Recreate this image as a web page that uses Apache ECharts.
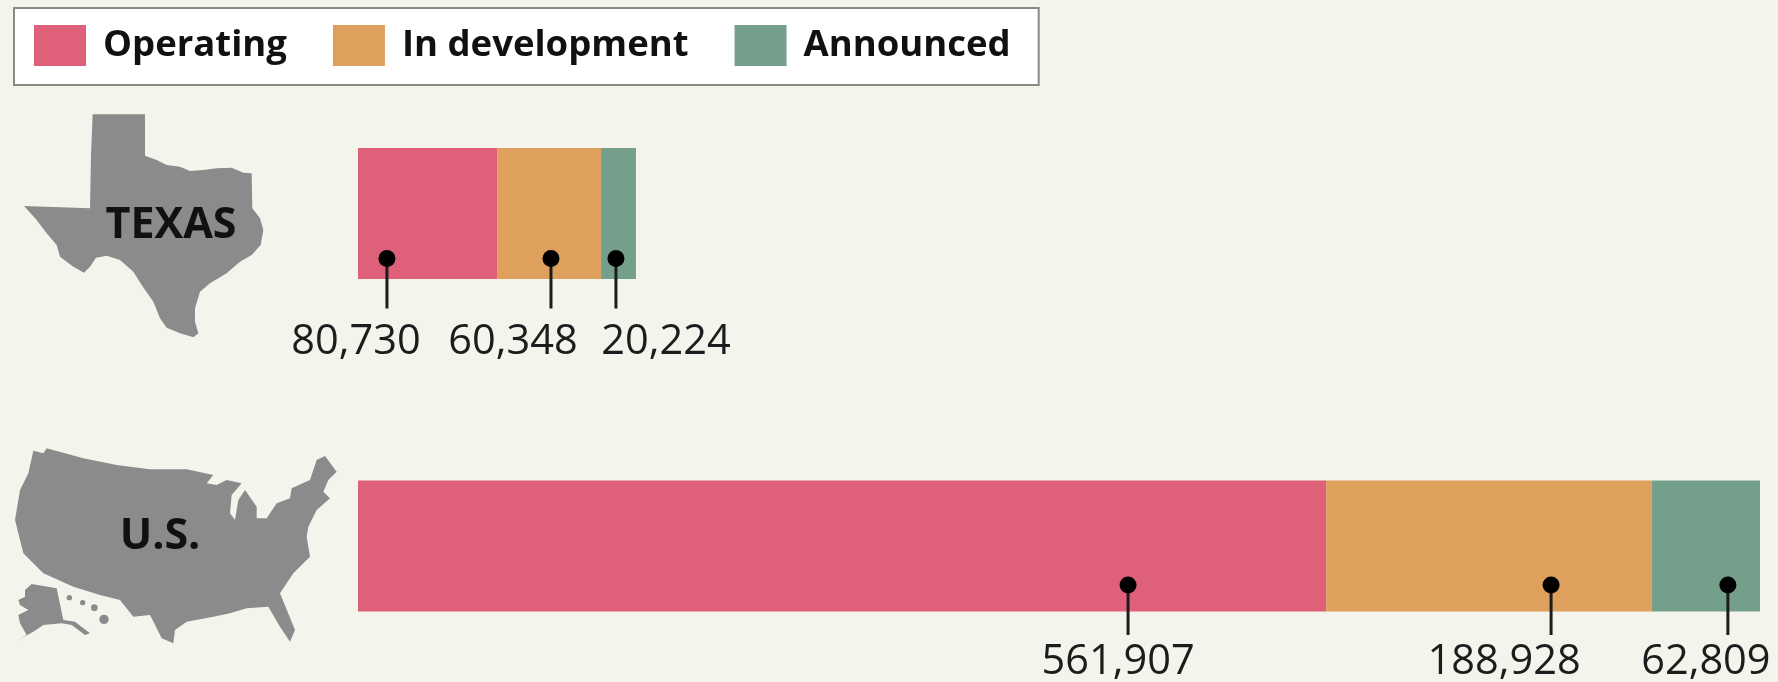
<!DOCTYPE html>
<html>
<head>
<meta charset="utf-8">
<style>
  html, body { margin: 0; padding: 0; background: #f5f4ec; }
  #chart { width: 1778px; height: 682px; }
</style>
<script src="https://cdn.jsdelivr.net/npm/echarts@6/dist/echarts.min.js"></script>
</head>
<body>
<div id="chart"></div>
<script>
// data
var regions = ['TEXAS', 'U.S.'];
var seriesNames = ['Operating', 'In development', 'Announced'];
var operating = [80730, 561907];
var development = [60348, 188928];
var announced = [20224, 62809];

var colors = ['#de6079', '#dea05c', '#749f8a'];
var axisMax = operating[1] + development[1] + announced[1];

// where each pin sits along its bar (axis units), and how its label is set off (px)
var pinAt = [
  [16800, 112000, 149700],
  [446900, 692400, 795000]
];
var pinLayout = [
  { dot: 45, end: 95, text: 129, dx: [-31, -38, 50] },
  { dot: 39, end: 89, text: 116, dx: [-10, -47, -22] }
];

// map outlines, hand traced at 3x
var texasShape = [[248,28],[405,28],[405,152],[440,165],[470,180],[510,185],[540,198],[580,195],[620,190],[665,188],[700,203],[725,205],[727,310],[750,340],[760,375],[752,420],[725,450],[690,470],[650,505],[600,535],[570,560],[555,610],[555,650],[565,685],[550,697],[510,685],[470,668],[450,640],[430,590],[395,540],[370,500],[330,465],[290,452],[258,458],[240,485],[222,503],[190,485],[150,455],[140,420],[110,385],[80,345],[42,303],[240,310],[243,150]];
var usShape = [[100,62],[130,70],[140,55],[250,85],[350,105],[450,118],[560,118],[640,135],[620,160],[650,165],[680,150],[725,160],[695,195],[690,250],[705,270],[715,210],[735,180],[770,230],[770,265],[800,265],[830,220],[870,205],[875,175],[930,150],[950,90],[975,78],[1010,125],[985,150],[970,185],[990,205],[950,240],[925,290],[920,320],[930,380],[880,430],[840,490],[885,600],[870,635],[840,590],[805,530],[740,535],[690,550],[640,560],[560,575],[525,600],[520,640],[485,625],[450,555],[400,560],[360,510],[300,495],[220,470],[130,430],[70,370],[55,310],[45,270],[60,180],[85,130]];
var alaskaShape = [[95,462],[170,475],[190,570],[225,575],[270,610],[255,615],[215,585],[185,580],[130,585],[100,605],[45,635],[80,615],[60,580],[55,555],[85,540],[60,525],[55,510],[75,500],[75,480]];
var hawaiiDots = [[208,503,8],[248,518,8],[283,533,10],[312,568,14]];

var mapGray = '#8b8b8b';
var fontName = '"Open Sans", "Noto Sans", sans-serif';

function mapPart(shape, x, y) {
  return { type: 'polygon', x: x, y: y, scaleX: 1 / 3, scaleY: 1 / 3, shape: { points: shape }, style: { fill: mapGray }, silent: true };
}

var graphics = [
  mapPart(texasShape, 10, 105),
  mapPart(usShape, 0, 430),
  mapPart(alaskaShape, 0, 430)
];
hawaiiDots.forEach(function (d) {
  graphics.push({ type: 'circle', x: 0, y: 430, scaleX: 1 / 3, scaleY: 1 / 3, shape: { cx: d[0], cy: d[1], r: d[2] }, style: { fill: mapGray }, silent: true });
});
graphics.push({ type: 'text', x: 171, y: 226, z: 10, silent: true, style: { text: 'TEXAS', font: 'bold 43px ' + fontName, fill: '#111', align: 'center', verticalAlign: 'middle' } });
graphics.push({ type: 'text', x: 160, y: 537, z: 10, silent: true, style: { text: 'U.S.', font: 'bold 43px ' + fontName, fill: '#111', align: 'center', verticalAlign: 'middle' } });

function barSeries(i, values) {
  return {
    name: seriesNames[i],
    type: 'bar',
    stack: 'total',
    barWidth: 131,
    clip: false,
    itemStyle: { color: colors[i] },
    data: values
  };
}

// pins: dot, stem and value label under each segment
var pinData = [];
[operating, development, announced].forEach(function (values, s) {
  values.forEach(function (v, r) {
    pinData.push([pinAt[r][s], r, v, s]);
  });
});

var option = {
  animation: false,
  backgroundColor: '#f5f4ec',
  tooltip: { show: false },
  graphic: graphics,
  color: colors,
  legend: {
    data: seriesNames,
    left: 14,
    top: 8,
    padding: [17, 28, 19, 20],
    itemWidth: 52,
    itemHeight: 41,
    itemGap: 46,
    backgroundColor: '#ffffff',
    borderColor: '#8a8a86',
    borderWidth: 2,
    selectedMode: false,
    icon: 'rect',
    textStyle: { fontFamily: fontName, fontWeight: 'bold', fontSize: 36.5, color: '#111', padding: [4, 0, 0, 12] }
  },
  // boundaryGap off puts the two rows on the grid's top and bottom edges
  grid: { left: 358, width: 1402, top: 213.5, height: 332.5 },
  xAxis: { type: 'value', min: 0, max: axisMax, show: false },
  yAxis: { type: 'category', data: regions, inverse: true, boundaryGap: false, show: false },
  series: [
    barSeries(0, operating),
    barSeries(1, development),
    barSeries(2, announced),
    {
      type: 'custom',
      z: 5,
      silent: true,
      clip: false,
      data: pinData,
      encode: { x: 0, y: 1 },
      renderItem: function (params, api) {
        var r = api.value(1);
        var s = api.value(3);
        var p = api.coord([api.value(0), r]);
        var lay = pinLayout[r];
        return {
          type: 'group',
          children: [
            { type: 'line', shape: { x1: p[0], y1: p[1] + lay.dot, x2: p[0], y2: p[1] + lay.end }, style: { stroke: '#1c1c1c', lineWidth: 3 } },
            { type: 'circle', shape: { cx: p[0], cy: p[1] + lay.dot, r: 8.5 }, style: { fill: '#000' } },
            { type: 'text', x: p[0] + lay.dx[s], y: p[1] + lay.text, style: { text: api.value(2).toLocaleString('en-US'), font: '41.5px ' + fontName, fill: '#1c1c1c', align: 'center', verticalAlign: 'middle' } }
          ]
        };
      }
    }
  ]
};

var chart = echarts.init(document.getElementById('chart'));
chart.setOption(option);
</script>
</body>
</html>
